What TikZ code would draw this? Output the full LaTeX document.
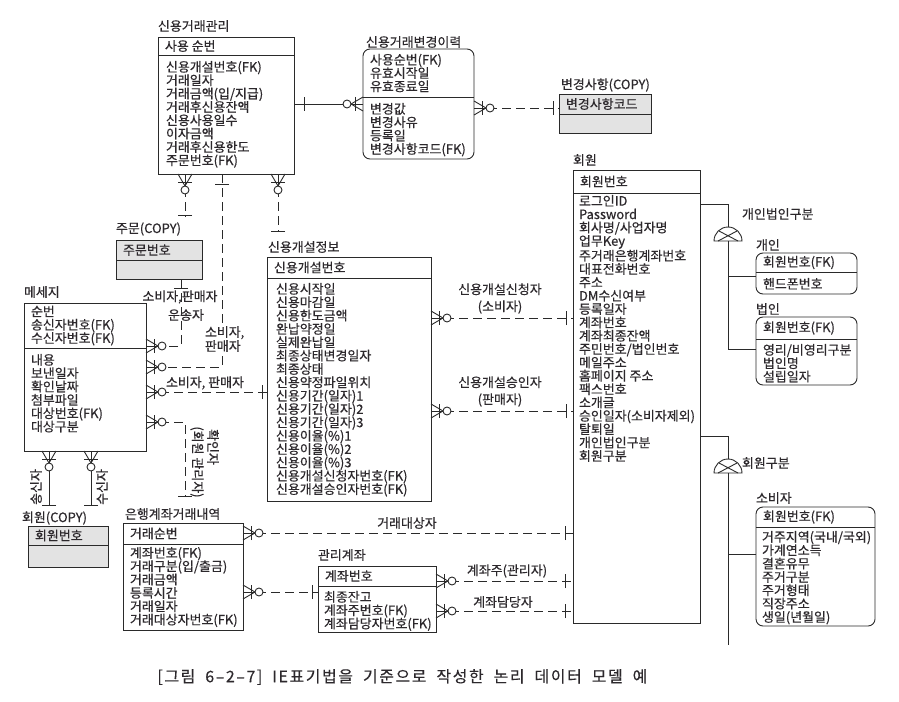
\documentclass[tikz,border=0pt]{standalone}
\usepackage{fontspec}
\setmainfont[FakeBold=0.4]{Noto Sans CJK KR}
\newfontfamily\capfont[LetterSpace=10,FakeBold=0.3]{Noto Sans CJK KR}
\usetikzlibrary{calc}
\definecolor{lc}{HTML}{2A2A2A}
\definecolor{tc}{HTML}{2C282C}
\definecolor{boxgray}{HTML}{E3E3E3}
\tikzset{
  ebox/.style={draw=lc, anchor=north west, inner sep=0, outer sep=0, fill=white},
  gbox/.style={fill=boxgray},
  rbox/.style={rounded corners=7bp},
  txt/.style={inner sep=0, outer sep=0, align=left, text=tc, font=\fontsize{13}{13.4}\selectfont, anchor=west},
  rel/.style={dash pattern=on 9bp off 5bp},
  pics/crowmany/.style={code={
    \draw[lc,solid] (0,-7bp) -- (12bp,0) -- (0,7bp);
    \draw[lc,solid] (0,0) -- (12bp,0);
    \draw[lc,solid] (8bp,-7bp) -- (8bp,7bp);
    \draw[lc,solid,fill=white] (16bp,0) circle[radius=4bp];
  }},
  pics/barone/.style={code={\draw[lc,solid] (0,-7bp) -- (0,7bp);}}
}
\newcommand\Ent[8]{%
  \node[ebox,#2,minimum width=#5bp,minimum height=#6bp] (#1) at (#3,#4) {};
  \draw[lc] ($(#1.north west)+(0,#7)$) -- ($(#1.north east)+(0,#7)$);
  \node[txt] (#1-h) at ($(#1.north west)+(7,{#7/2})$) {#8};
}
\begin{document}
\begin{tikzpicture}[x=1bp,y=-1bp,line width=0.9bp,color=lc]
\fill[white] (0,0) rectangle (899,702);
\useasboundingbox (0,0) rectangle (899,702);

% ---------- entities ----------
\Ent{E1}{}{158}{37}{136}{137}{18}{사용 순번}
\node[txt,anchor=north west] (E1-a) at (166,61) {신용개설번호(FK)\\거래일자\\거래금액(입/지급)\\거래후신용잔액\\신용사용일수\\이자금액\\거래후신용한도\\주문번호(FK)};
\node[txt] (L1) at (158,26) {신용거래관리};

\Ent{E2}{rbox}{363}{49}{111}{110}{48}{사용순번(FK)\\유효시작일\\유효종료일}
\node[txt,anchor=north west] (E2-a) at (370,103) {변경값\\변경사유\\등록일\\변경사항코드(FK)};
\node[txt] (L2) at (366,42) {신용거래변경이력};

\Ent{E3}{gbox}{559}{94}{92}{39}{20}{변경사항코드}
\node[txt] (L3) at (561,85) {변경사항(COPY)};

\Ent{E4}{}{573}{170}{127}{453}{23}{회원번호}
\node[txt,anchor=north west] (E4-a) at (579,195) {로그인ID\\Password\\회사명/사업자명\\업무Key\\주거래은행계좌번호\\대표전화번호\\주소\\DM수신여부\\등록일자\\계좌번호\\계좌최종잔액\\주민번호/법인번호\\메일주소\\홈페이지 주소\\팩스번호\\소개글\\승인일자(소비자제외)\\탈퇴일\\개인법인구분\\회원구분};
\node[txt] (L4) at (573,160) {회원};

\Ent{E5}{rbox}{756}{253}{101}{41}{19}{회원번호(FK)}
\node[txt,anchor=north west] (E5-a) at (763,278) {핸드폰번호};
\node[txt] (L5) at (756,245) {개인};

\Ent{E6}{rbox}{756}{317}{101}{68}{22}{회원번호(FK)}
\node[txt,anchor=north west] (E6-a) at (763,344) {영리/비영리구분\\법인명\\설립일자};
\node[txt] (L6) at (756,309) {법인};

\Ent{E7}{rbox}{756}{507}{119}{119}{20}{회원번호(FK)}
\node[txt,anchor=north west] (E7-a) at (762,531) {거주지역(국내/국외)\\가계연소득\\결혼유무\\주거구분\\주거형태\\직장주소\\생일(년월일)};
\node[txt] (L7) at (756,498) {소비자};

\Ent{E8}{}{267}{257}{164}{244}{21}{신용개설번호}
\node[txt,anchor=north west] (E8-a) at (276,283) {신용시작일\\신용마감일\\신용한도금액\\완납약정일\\실제완납일\\최종상태변경일자\\최종상태\\신용약정파일위치\\신용기간(일자)1\\신용기간(일자)2\\신용기간(일자)3\\신용이율(\%)1\\신용이율(\%)2\\신용이율(\%)3\\신용개설신청자번호(FK)\\신용개설승인자번호(FK)};
\node[txt] (L8) at (268,247) {신용개설정보};

\Ent{E9}{gbox}{116}{240}{86}{39}{20}{주문번호}
\node[txt] (L9) at (116,229) {주문(COPY)};

\Ent{E10}{}{24}{303}{122}{148}{45}{순번\\송신자번호(FK)\\수신자번호(FK)}
\node[txt,anchor=north west] (E10-a) at (31,354) {내용\\보낸일자\\확인날짜\\첨부파일\\대상번호(FK)\\대상구분};
\node[txt] (L10) at (24,292) {메세지};

\Ent{E11}{gbox}{28}{526}{80}{41}{19}{회원번호}
\node[txt] (L11) at (22,518) {회원(COPY)};

\Ent{E12}{}{123}{523}{120}{107}{21}{거래순번}
\node[txt,anchor=north west] (E12-a) at (130,547) {계좌번호(FK)\\거래구분(입/출금)\\거래금액\\등록시간\\거래일자\\거래대상자번호(FK)};
\node[txt] (L12) at (125,514) {은행계좌거래내역};

\Ent{E13}{}{318}{566}{118}{66}{20}{계좌번호}
\node[txt,anchor=north west] (E13-a) at (324,591) {최종잔고\\계좌주번호(FK)\\계좌담당자번호(FK)};
\node[txt] (L13) at (318,555) {관리계좌};

% ---------- relationships ----------
\draw (E1.east |- 0,104) -- (E2.west |- 0,104);
\pic at (304,104) {barone};
\pic[rotate=180] at (E2.west |- 0,104) {crowmany};
\draw[rel] (E2.east |- 0,108) -- (E3.west |- 0,108);
\pic at (E2.east |- 0,108) {crowmany};
\pic at (553,108) {barone};
\draw[rel] (E8.east |- 0,318) -- (E4.west |- 0,318);
\pic at (E8.east |- 0,318) {crowmany};
\pic at (566,318) {barone};
\draw[rel] (E8.east |- 0,411) -- (E4.west |- 0,411);
\pic at (E8.east |- 0,411) {crowmany};
\pic at (566,411) {barone};
\draw[rel] (E12.east |- 0,533) -- (E4.west |- 0,533);
\pic at (E12.east |- 0,533) {crowmany};
\pic at (565,533) {barone};
\draw[rel] (E12.east |- 0,592) -- (E13.west |- 0,592);
\pic at (E12.east |- 0,592) {crowmany};
\pic at (312,592) {barone};
\draw[rel] (E13.east |- 0,581) -- (E4.west |- 0,581);
\pic at (E13.east |- 0,581) {crowmany};
\pic at (565,581) {barone};
\draw[rel] (E13.east |- 0,611) -- (E4.west |- 0,611);
\pic at (E13.east |- 0,611) {crowmany};
\pic at (565,611) {barone};
\coordinate (c9) at (185,217);
\draw[rel] (E1.south -| c9) -- (c9);
\pic[rotate=-90] at (E1.south -| c9) {crowmany};
\pic[rotate=90] at (185,215) {barone};
\coordinate (c10) at (222,367);
\draw[rel] (E1.south -| c10) -- (c10) -- (E10.east |- c10);
\pic[rotate=90] at (222,184) {barone};
\pic at (E10.east |- c10) {crowmany};
\coordinate (c11) at (278,232);
\draw[rel] (E1.south -| c11) -- (c11);
\pic[rotate=-90] at (E1.south -| c11) {crowmany};
\pic[rotate=90] at (278,231) {barone};
\coordinate (c12) at (181,346);
\draw[rel] (E9.south -| c12) -- (c12) -- (E10.east |- c12);
\pic[rotate=90] at (181,288) {barone};
\pic at (E10.east |- c12) {crowmany};
\draw[rel] (E10.east |- 0,392) -- (E8.west |- 0,392);
\pic at (E10.east |- 0,392) {crowmany};
\pic at (262,392) {barone};
\coordinate (c14) at (185,496);
\draw[rel] (E10.east |- 0,422) -| (c14);
\pic at (E10.east |- 0,422) {crowmany};
\pic[rotate=90] at (c14) {barone};
\coordinate (c15) at (49,505);
\draw (E10.south -| c15) -- (c15);
\pic[rotate=-90] at (E10.south -| c15) {crowmany};
\pic[rotate=90] at (c15) {barone};
\coordinate (c16) at (91,505);
\draw (E10.south -| c16) -- (c16);
\pic[rotate=-90] at (E10.south -| c16) {crowmany};
\pic[rotate=90] at (c16) {barone};

% ---------- subtypes ----------
\coordinate (d1) at (728,241);
\draw (E4.east |- 0,204) -| (728,227);
\draw (714,241) arc[start angle=180,end angle=0,radius=14bp] -- cycle;
\draw (719,231) -- (738,241) (737,231) -- (718,241);
\draw (d1) -- (728,349) -- (E6.west |- 0,349);
\draw (728,276) -- (E5.west |- 0,276);
\node[txt] (L14) at (742,214) {개인법인구분};

\coordinate (d2) at (728,473);
\draw (E4.east |- 0,436) -| (728,459);
\draw (714,473) arc[start angle=180,end angle=0,radius=14bp] -- cycle;
\draw (719,463) -- (738,473) (737,463) -- (718,473);
\draw (d2) -- (728,645);
\draw (728,554) -- (E7.west |- 0,554);
\node[txt] (L15) at (742,463) {회원구분};

% ---------- relationship labels ----------
\node[txt,anchor=center,align=center,font=\fontsize{13}{17}\selectfont] (T1) at (500,298.5) {신용개설신청자\\(소비자)};
\node[txt,anchor=center,align=center,font=\fontsize{13}{17}\selectfont] (T2) at (500,391.5) {신용개설승인자\\(판매자)};
\node[txt,anchor=center] (T3) at (407,523) {거래대상자};
\node[txt,anchor=center] (T4) at (507,571) {계좌주(관리자)};
\node[txt,anchor=center] (T5) at (503,602) {계좌담당자};
\node[txt,anchor=center] (T6) at (180,297) {소비자,판매자};
\node[txt,anchor=center] (T7) at (186,315) {운송자};
\node[txt,fill=white,inner sep=1bp,font=\fontsize{13}{12.5}\selectfont] (T8) at (204,339) {소비자,\\판매자};
\node[txt,anchor=center] (T9) at (205,383) {소비자, 판매자};
\node[txt,anchor=center,rotate=-90] (T10) at (213,447) {확인자};
\node[txt,anchor=center,rotate=-90] (T11) at (197,462) {(회원 관리자)};
\node[txt,anchor=center,rotate=90] (T12) at (36,487) {송신자};
\node[txt,anchor=center,rotate=90] (T13) at (102,487) {수신자};

% ---------- caption ----------
\node[anchor=west,inner sep=0,text=tc,font=\capfont\fontsize{16}{18}\selectfont] (cap) at (157,677) {\spaceskip=10bp [그림 6–2–7] IE표기법을 기준으로 작성한 논리 데이터 모델 예};
\end{tikzpicture}
\end{document}
